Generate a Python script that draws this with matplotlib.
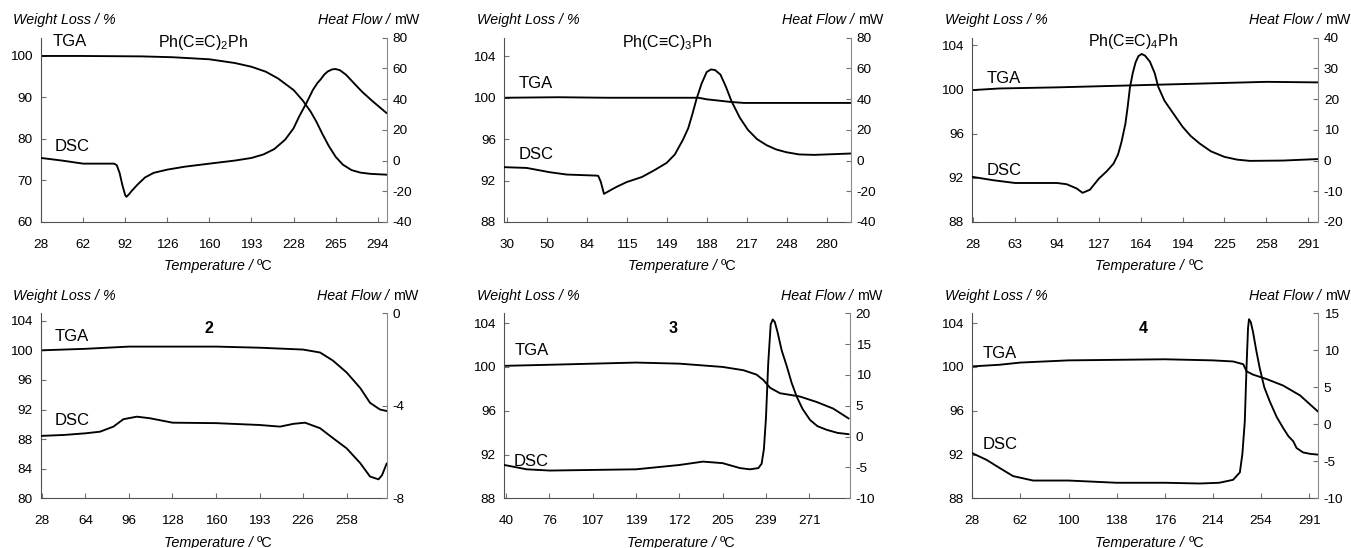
import numpy as np
import matplotlib
matplotlib.use("Agg")
import matplotlib.pyplot as plt

plt.rcParams['font.family'] = ['Liberation Sans', 'DejaVu Sans']
plt.rcParams['axes.unicode_minus'] = False

# ---- panel 1 : Ph(C≡C)2Ph ----
p1_ticks = [28, 62, 92, 126, 160, 193, 228, 265, 294]
p1_tga_t = [28, 60, 105, 130, 160, 180, 193, 205, 215, 228, 236, 243, 248, 253, 259, 265, 270, 276, 282, 289, 300]
p1_tga_w = [100, 100, 99.9, 99.7, 99.2, 98.3, 97.4, 96.2, 94.6, 91.8, 89.3, 86.6, 84.2, 81.4, 78.3, 75.7, 73.8, 72.5, 71.9, 71.6, 71.4]
p1_dsc_t = [28, 45, 62, 84, 86, 88, 90, 92, 93, 95, 97, 102, 108, 115, 126, 140, 160, 180, 193, 203, 212, 221,
            228, 233, 239, 245, 249, 252, 255, 258, 262, 265, 268, 272, 276, 283, 290, 300]
p1_dsc_h = [1.7, 0, -2, -2, -3, -8, -16, -22.5, -23.6, -22, -20, -15.6, -11, -8, -5.9, -4, -2, 0, 1.7, 4, 7.5, 13.6,
            21, 28.8, 37, 46, 50.5, 53, 56, 58, 59.4, 59.6, 58.8, 56, 52, 45, 39, 31]

# ---- panel 2 : Ph(C≡C)3Ph ----
p2_ticks = [30, 50, 84, 115, 149, 188, 217, 248, 280]
p2_tga_t = [28.8, 60, 100, 150, 180, 188, 195, 205, 215, 299.5]
p2_tga_w = [100, 100.05, 100, 100, 100, 99.85, 99.75, 99.6, 99.5, 99.5]
p2_dsc_t = [28.8, 40, 52.7, 67, 91.7, 93, 95, 97.4, 102, 107, 115, 128, 138.5, 149, 157, 165, 170, 174, 178, 183,
            188, 191, 194, 198, 202, 206, 212, 218, 225, 232.5, 240, 248, 258, 270, 280, 299.5]
p2_dsc_h = [-4.3, -4.8, -7.6, -9.1, -9.8, -10, -14, -21.7, -19.5, -17.2, -14, -10.7, -6.3, -1.5, 4, 13.7, 21, 30, 39.8, 50,
            57.6, 59.3, 59, 56, 48, 38.7, 28, 20, 14, 10, 7.2, 5.4, 4, 3.7, 4.0, 4.6]

# ---- panel 3 : Ph(C≡C)4Ph ----
p3_ticks = [28, 63, 94, 127, 164, 194, 225, 258, 291]
p3_tga_t = [27.3, 50, 94, 164, 225, 258, 299]
p3_tga_w = [99.95, 100.1, 100.2, 100.4, 100.6, 100.7, 100.65]
p3_dsc_t = [27.3, 44.8, 63, 94, 101.7, 109.6, 114.2, 120, 127, 134, 140, 144, 147, 150.5, 152.5, 154.5, 157, 159.5,
            162, 164.7, 167, 170.6, 174, 176.6, 181, 187.4, 194, 200, 206.8, 215, 225, 235, 245, 271, 299]
p3_dsc_h = [-5.3, -6.4, -7.3, -7.3, -7.7, -9.1, -10.5, -9.5, -5.9, -3.5, -1, 2, 6, 12, 17.5, 23.8, 28.5, 32,
            34, 34.7, 34.2, 32.2, 28.5, 24, 19.5, 15.3, 11, 8, 5.5, 3, 1.2, 0.3, -0.1, 0, 0.5]

# ---- panel 4 : compound 2 ----
p4_ticks = [28, 64, 96, 128, 160, 193, 226, 258]
p4_tga_t = [28, 64, 96, 160, 193, 226, 238.5, 248, 258, 268, 275.2, 282.5, 287.4]
p4_tga_w = [100, 100.2, 100.5, 100.5, 100.35, 100.1, 99.7, 98.6, 97, 94.9, 92.9, 92, 91.8]
p4_dsc_t = [28, 46.5, 64, 74.7, 84.6, 91.9, 101.8, 111.6, 128, 160, 193, 208.5, 218.7, 227.4, 238.5, 248,
            258, 268, 275.2, 281.4, 284, 287.4]
p4_dsc_h = [-5.3, -5.26, -5.19, -5.12, -4.9, -4.58, -4.47, -4.54, -4.73, -4.75, -4.83, -4.9, -4.78, -4.73, -4.97, -5.4,
            -5.84, -6.48, -7.06, -7.18, -7.0, -6.5]

# ---- panel 5 : compound 3 ----
p5_ticks = [40, 76, 107, 139, 172, 205, 239, 271]
p5_tga_t = [38.6, 76.5, 139, 172, 205, 221.3, 231.6, 237, 242, 249.3, 264, 276.4, 288.6, 300]
p5_tga_w = [100.1, 100.2, 100.4, 100.3, 100, 99.7, 99.3, 98.8, 98.1, 97.6, 97.3, 96.8, 96.2, 95.3]
p5_dsc_t = [38.6, 57.2, 76.5, 107, 139, 172, 190, 205, 218.6, 226.4, 233, 235.6, 237.4, 239, 240.7, 242.5,
            244, 245.5, 247.5, 250.6, 254.4, 258, 261.7, 266, 271.6, 277, 283.9, 292, 300]
p5_dsc_h = [-4.6, -5.3, -5.5, -5.4, -5.3, -4.6, -4.05, -4.3, -5.1, -5.3, -5.1, -4.4, -2, 3, 12, 18.2,
            19, 18.6, 17, 14, 11.4, 8.7, 6.5, 4.5, 2.7, 1.7, 1.1, 0.6, 0.4]

# ---- panel 6 : compound 4 ----
p6_ticks = [28, 62, 100, 138, 176, 214, 254, 291]
p6_tga_t = [28, 47.3, 62, 100, 176, 214, 230.8, 239.2, 242, 247.3, 258.1, 271, 284, 298]
p6_tga_w = [100.05, 100.2, 100.4, 100.6, 100.7, 100.6, 100.5, 100.25, 99.6, 99.3, 98.9, 98.3, 97.4, 95.9]
p6_dsc_t = [28, 38, 47.3, 56.8, 72, 100, 138, 176, 203.7, 219.3, 230.8, 236.4, 238.5, 240.5, 242, 243.2, 244,
            245.5, 247.3, 250, 252.9, 256.5, 260.7, 266, 271, 275, 278.8, 281.3, 286.3, 292, 298]
p6_dsc_h = [-3.9, -4.8, -5.9, -7.0, -7.6, -7.6, -7.9, -7.9, -8, -7.9, -7.5, -6.5, -4, 0.4, 8, 13, 14.2,
            13.8, 12.5, 10, 7.6, 5, 3.1, 1, -0.5, -1.6, -2.3, -3.2, -3.8, -4, -4.1]

titles = [r'Ph(C≡C)$_\mathregular{2}$Ph', r'Ph(C≡C)$_\mathregular{3}$Ph', r'Ph(C≡C)$_\mathregular{4}$Ph',
          '2', '3', '4']


def to_pos(t, ticks):
    """temperature -> category position (ticks are equally spaced on the axis)"""
    t = np.asarray(t, float)
    ticks = np.asarray(ticks, float)
    idx = np.arange(len(ticks))
    pos = np.interp(t, ticks, idx)
    lo = t < ticks[0]
    hi = t > ticks[-1]
    pos[lo] = (t[lo] - ticks[0]) / (ticks[1] - ticks[0])
    pos[hi] = idx[-1] + (t[hi] - ticks[-1]) / (ticks[-1] - ticks[-2])
    return pos


W, H = 1351, 548
fig = plt.figure(figsize=(W / 100, H / 100), dpi=100)

# pixel boxes (left, top, right, bottom)
boxes = [(41, 37.7, 387, 222), (504.3, 37.7, 851, 222), (972.3, 37.7, 1318.3, 222),
         (41, 313.3, 386.7, 498.3), (504.3, 313.3, 850, 498.3), (972.3, 313.3, 1318.3, 498.3)]

panels = [
    (p1_ticks, p1_tga_t, p1_tga_w, p1_dsc_t, p1_dsc_h, (0, 8.22), (60, 104.4), [60, 70, 80, 90, 100], (-40, 80), range(-40, 81, 20)),
    (p2_ticks, p2_tga_t, p2_tga_w, p2_dsc_t, p2_dsc_h, (-0.06, 8.61), (88, 105.8), [88, 92, 96, 100, 104], (-40, 80), range(-40, 81, 20)),
    (p3_ticks, p3_tga_t, p3_tga_w, p3_dsc_t, p3_dsc_h, (-0.02, 8.24), (88, 104.7), [88, 92, 96, 100, 104], (-20, 40), range(-20, 41, 10)),
    (p4_ticks, p4_tga_t, p4_tga_w, p4_dsc_t, p4_dsc_h, (-0.02, 7.92), (80, 105.0), [80, 84, 88, 92, 96, 100, 104], (-8, 0), [-8, -4, 0]),
    (p5_ticks, p5_tga_t, p5_tga_w, p5_dsc_t, p5_dsc_h, (-0.04, 7.94), (88, 104.9), [88, 92, 96, 100, 104], (-10, 20), range(-10, 21, 5)),
    (p6_ticks, p6_tga_t, p6_tga_w, p6_dsc_t, p6_dsc_h, (0, 7.19), (88, 104.9), [88, 92, 96, 100, 104], (-10, 15), range(-10, 16, 5)),
]

# label positions in axes fraction: TGA (x, y), DSC (x, y), title (x, y)
tga_pos = [(0.035, 0.977), (0.04, 0.754), (0.04, 0.776), (0.04, 0.874), (0.031, 0.798), (0.03, 0.78)]
dsc_pos = [(0.038, 0.407), (0.04, 0.364), (0.04, 0.282), (0.04, 0.423), (0.026, 0.2), (0.03, 0.292)]
title_pos = [(0.468, 0.975), (0.469, 0.975), (0.465, 0.978), (0.486, 0.919), (0.487, 0.919), (0.494, 0.919)]

spine_dark = '#505050'
spine_light = '#8a8a8a'

for i, (box, pnl) in enumerate(zip(boxes, panels)):
    ticks, tga_t, tga_w, dsc_t, dsc_h, xlim, ylim_l, yt_l, ylim_r, yt_r = pnl
    l, t, r, b = box
    ax = fig.add_axes([l / W, 1 - b / H, (r - l) / W, (b - t) / H])
    ax2 = ax.twinx()

    ax.plot(to_pos(tga_t, ticks), tga_w, color='black', lw=1.35)
    ax2.plot(to_pos(dsc_t, ticks), dsc_h, color='black', lw=1.35)

    ax.set_xlim(*xlim)
    ax.set_ylim(*ylim_l)
    ax2.set_ylim(*ylim_r)
    ax.set_xticks(range(len(ticks)))
    ax.set_xticklabels([str(v) for v in ticks])
    ax.set_yticks(yt_l)
    ax2.set_yticks(list(yt_r))

    for a in (ax, ax2):
        a.spines['top'].set_visible(False)
    ax.spines['right'].set_visible(False)
    ax2.spines['left'].set_visible(False)
    ax2.spines['bottom'].set_visible(False)
    ax.spines['left'].set_color(spine_dark)
    ax.spines['bottom'].set_color(spine_dark)
    ax2.spines['right'].set_color(spine_light)

    ax.tick_params(axis='x', direction='in', length=3.5, color='#707070', labelsize=9.7, pad=12)
    ax.tick_params(axis='y', direction='in', length=3.5, color='#707070', labelsize=9.7, pad=6)
    ax2.tick_params(axis='y', direction='in', length=3.5, color='#707070', labelsize=9.7, pad=4)

    ax.text(*tga_pos[i], 'TGA', transform=ax.transAxes, fontsize=12, ha='left', va='center')
    ax.text(*dsc_pos[i], 'DSC', transform=ax.transAxes, fontsize=12, ha='left', va='center')

    if i < 3:
        ax.text(*title_pos[i], titles[i], transform=ax.transAxes, fontsize=11.5,
                ha='center', va='center')
    else:
        ax.text(*title_pos[i], titles[i], transform=ax.transAxes, fontsize=11.5,
                fontweight='bold', ha='center', va='center')

    # axis titles
    ax.annotate('Weight Loss / %', xy=(0, 1), xycoords='axes fraction', xytext=(-20, 12.5),
                textcoords='offset points', style='italic', fontsize=10.3, ha='left', va='center')
    mw = ax.annotate('mW', xy=(1, 1), xycoords='axes fraction', xytext=(23, 12.5),
                     textcoords='offset points', fontsize=10.3, ha='right', va='center')
    ax.annotate('Heat Flow / ', xy=(0, 0), xycoords=mw, style='italic', fontsize=10.3,
                ha='right', va='bottom')
    tc = ax.annotate('Temperature / ', xy=(0.5, 0), xycoords='axes fraction', xytext=(31, -32),
                     textcoords='offset points', style='italic', fontsize=10.4, ha='right', va='center')
    ax.annotate('ºC', xy=(1, 0), xycoords=tc, fontsize=10.4, ha='left', va='bottom')

fig.savefig('out.png', dpi=100)
